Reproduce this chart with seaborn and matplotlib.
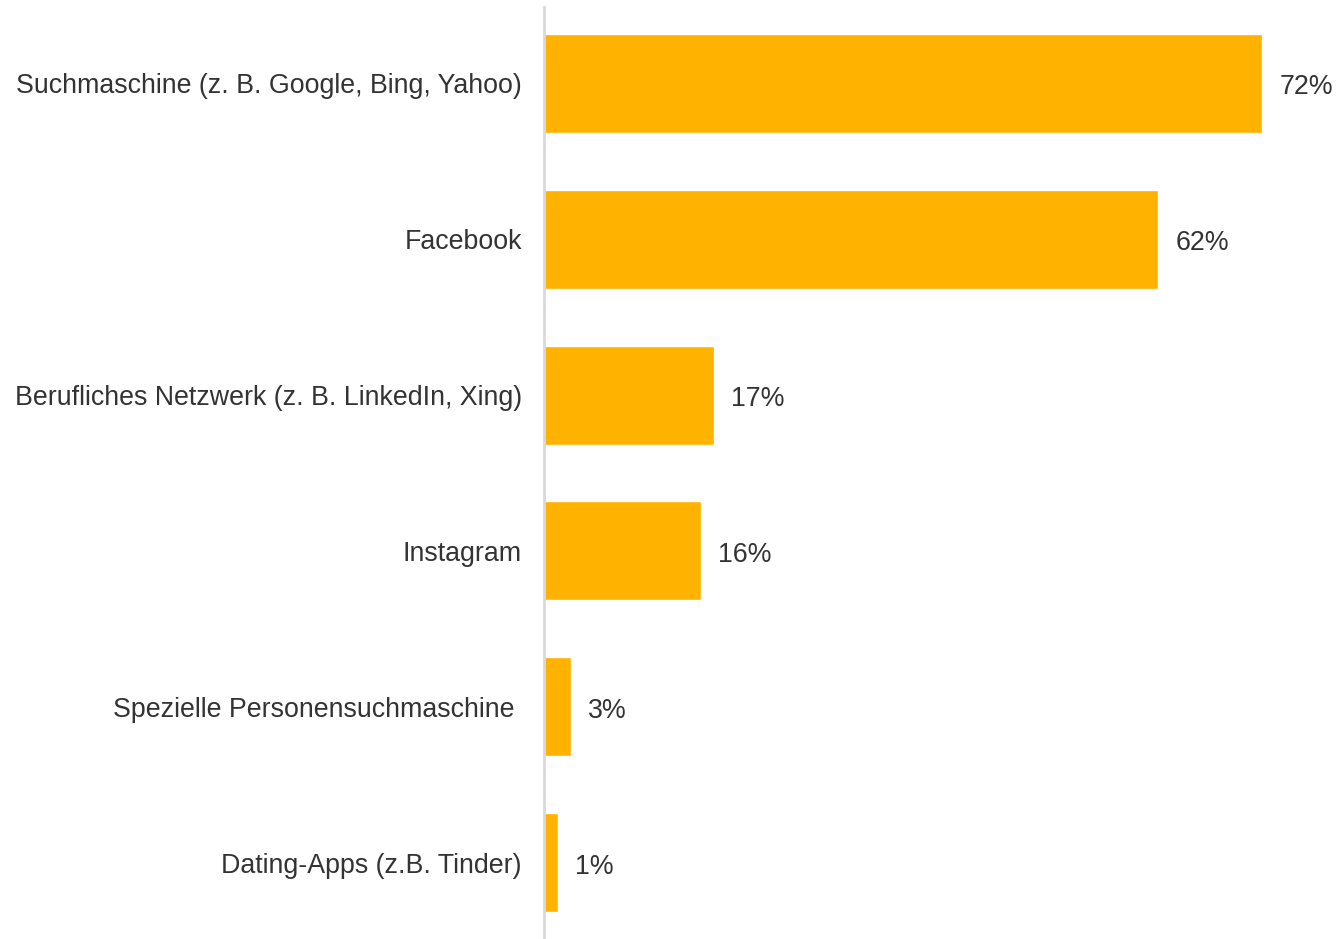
import matplotlib
matplotlib.use("Agg")
import matplotlib.pyplot as plt
import pandas as pd
import seaborn as sns

# Data
categories = [
    "Suchmaschine (z. B. Google, Bing, Yahoo)",
    "Facebook",
    "Berufliches Netzwerk (z. B. LinkedIn, Xing)",
    "Instagram",
    "Spezielle Personensuchmaschine ",
    "Dating-Apps (z.B. Tinder)",
]
values = [72, 61.6, 17, 15.7, 2.7, 1.4]
value_labels = ["72%", "62%", "17%", "16%", "3%", "1%"]

df = pd.DataFrame({"category": categories, "value": values})

sns.set_theme(style="white")
plt.rcParams["font.family"] = ["Liberation Sans", "DejaVu Sans"]

fig = plt.figure(figsize=(13.37, 9.39), dpi=100)
ax = fig.add_axes([544 / 1337, 0, 1 - 544 / 1337, 1 - 7 / 939])

sns.barplot(
    data=df,
    x="value",
    y="category",
    color="#FFB300",
    saturation=1,
    width=0.635,
    ax=ax,
)

ax.set_xlim(0, 79.5)
ax.set_ylim(5.49, -0.49)

# Value labels
for i, (v, lab) in enumerate(zip(values, value_labels)):
    ax.text(v + 1.7, i + 0.025, lab, va="center", ha="left",
            fontsize=19.3, color="#333333")

ax.set_xlabel("")
ax.set_ylabel("")
ax.set_xticks([])
ax.tick_params(axis="y", length=0, pad=16, labelsize=19.3, labelcolor="#333333")

for side in ["top", "right", "bottom"]:
    ax.spines[side].set_visible(False)
ax.spines["left"].set_color("#d9d9d9")
ax.spines["left"].set_linewidth(2)

fig.savefig("out.png", dpi=100)
